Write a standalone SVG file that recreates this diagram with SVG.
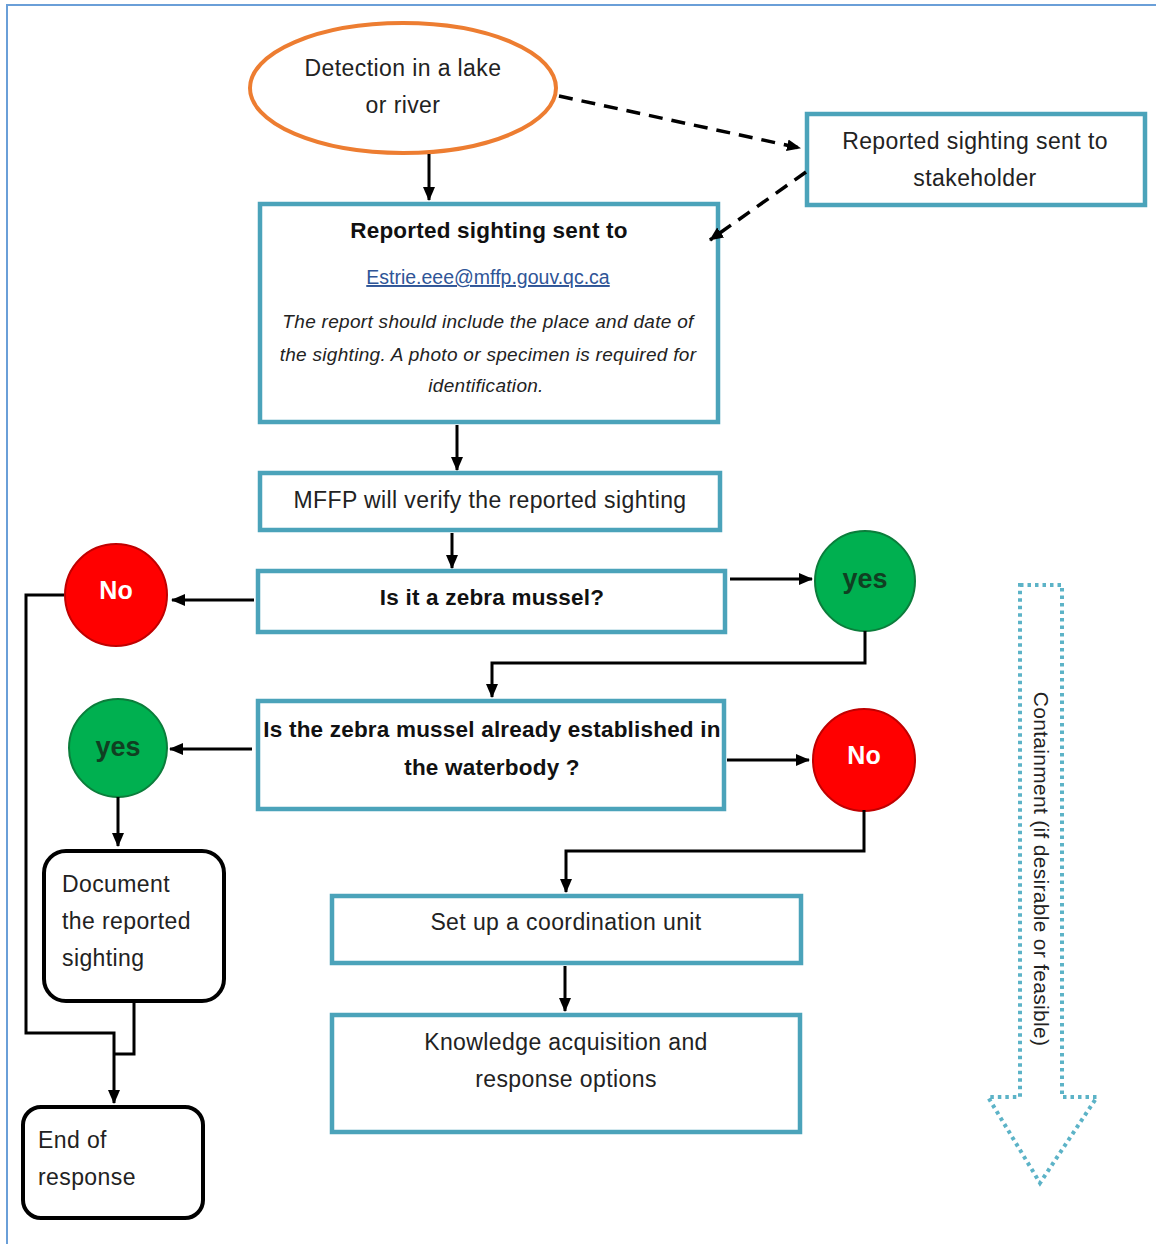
<svg xmlns="http://www.w3.org/2000/svg" width="1156" height="1244" viewBox="0 0 1156 1244">
<defs>
<marker id="ah" markerUnits="userSpaceOnUse" markerWidth="14" markerHeight="14" viewBox="0 0 14 14" refX="13" refY="7" orient="auto">
<path d="M0,1 L14,7 L0,13 Z" fill="#000"/>
</marker>
<style>
.box{fill:#fff;stroke:#4ba3ba;stroke-width:4.5}
.rbox{fill:#fff;stroke:#000;stroke-width:4}
.t{font-family:"Liberation Sans",Arial,sans-serif;font-size:23px;letter-spacing:0.4px;fill:#222}
.b{font-family:"Liberation Sans",Arial,sans-serif;font-size:22.5px;font-weight:bold;fill:#111;letter-spacing:0.2px}
.it{font-family:"Liberation Sans",Arial,sans-serif;font-size:19px;font-style:italic;fill:#222;letter-spacing:0.3px}
.c{text-anchor:middle}
.con{fill:none;stroke:#000;stroke-width:3}
.dash{fill:none;stroke:#000;stroke-width:3.5;stroke-dasharray:14 9}
.red{fill:#ff0000;stroke:#c00000;stroke-width:2}
.grn{fill:#00b050;stroke:#0b7d3b;stroke-width:2}
.no{font-family:"Liberation Sans",Arial,sans-serif;font-size:25px;font-weight:bold;fill:#fff;text-anchor:middle}
.yes{font-family:"Liberation Sans",Arial,sans-serif;font-size:27px;font-weight:bold;fill:#103f22;text-anchor:middle}
</style>
</defs>
<rect x="7" y="5" width="1170" height="1260" fill="#fff" stroke="#6a9fd8" stroke-width="2"/>

<g id="detection">
<ellipse cx="403" cy="88" rx="153" ry="65" fill="#fff" stroke="#ed7d31" stroke-width="4"/>
<text class="t c" x="403" y="76">Detection in a lake</text>
<text class="t c" x="403" y="113">or river</text>
</g>

<g id="stakeholder">
<rect class="box" x="807" y="114" width="338" height="91"/>
<text class="t c" x="975" y="149">Reported sighting sent to</text>
<text class="t c" x="975" y="186">stakeholder</text>
</g>

<g id="report">
<rect class="box" x="260" y="204" width="458" height="218"/>
<text class="b c" x="489" y="238">Reported sighting sent to</text>
<text class="c" x="488" y="284" font-family="Liberation Sans, Arial, sans-serif" font-size="19.5" fill="#2f5597" text-decoration="underline">Estrie.eee@mffp.gouv.qc.ca</text>
<text class="it c" x="488" y="328">The report should include the place and date of</text>
<text class="it c" x="488" y="361">the sighting. A photo or specimen is required for</text>
<text class="it c" x="486" y="392">identification.</text>
</g>

<g id="mffp">
<rect class="box" x="260" y="473" width="460" height="57"/>
<text class="t c" x="490" y="508">MFFP will verify the reported sighting</text>
</g>

<g id="zebra-q">
<rect class="box" x="258" y="571" width="467" height="61"/>
<text class="b c" x="492" y="605">Is it a zebra mussel?</text>
</g>

<g id="no1">
<circle class="red" cx="116" cy="595" r="51"/>
<text class="no" x="116" y="599">No</text>
</g>

<g id="yes1">
<circle class="grn" cx="865" cy="581" r="50"/>
<text class="yes" x="865" y="588">yes</text>
</g>

<g id="established-q">
<rect class="box" x="258" y="701" width="466" height="108"/>
<text class="b c" x="492" y="737">Is the zebra mussel already established in</text>
<text class="b c" x="492" y="775">the waterbody ?</text>
</g>

<g id="yes2">
<circle class="grn" cx="118" cy="748" r="49"/>
<text class="yes" x="118" y="756">yes</text>
</g>

<g id="no2">
<circle class="red" cx="864" cy="760" r="51"/>
<text class="no" x="864" y="764">No</text>
</g>

<g id="document">
<rect class="rbox" x="44" y="851" width="180" height="150" rx="22"/>
<text class="t" x="62" y="892">Document</text>
<text class="t" x="62" y="929">the reported</text>
<text class="t" x="62" y="966">sighting</text>
</g>

<g id="end">
<rect class="rbox" x="23" y="1107" width="180" height="111" rx="18"/>
<text class="t" x="38" y="1148">End of</text>
<text class="t" x="38" y="1185">response</text>
</g>

<g id="coordination">
<rect class="box" x="332" y="896" width="469" height="67"/>
<text class="t c" x="566" y="930">Set up a coordination unit</text>
</g>

<g id="knowledge">
<rect class="box" x="332" y="1015" width="468" height="117"/>
<text class="t c" x="566" y="1050">Knowledge acquisition and</text>
<text class="t c" x="566" y="1087">response options</text>
</g>

<g id="containment">
<path d="M1020,585 L1062,585 L1062,1097 L1097,1097 L1040,1183 L988,1097 L1020,1097 Z" fill="none" stroke="#5cb3c7" stroke-width="4" stroke-dasharray="3.5 4"/>
<text transform="translate(1034,869) rotate(90)" text-anchor="middle" font-family="Liberation Sans, Arial, sans-serif" font-size="21" letter-spacing="0.3" fill="#222">Containment (if desirable or feasible)</text>
</g>

<g id="connectors">
<line class="con" x1="429" y1="154" x2="429" y2="200" marker-end="url(#ah)"/>
<path class="dash" d="M559,96 L800,148" marker-end="url(#ah)"/>
<path class="dash" d="M806,172 L710,240" marker-end="url(#ah)"/>
<line class="con" x1="457" y1="425" x2="457" y2="470" marker-end="url(#ah)"/>
<line class="con" x1="452" y1="533" x2="452" y2="568" marker-end="url(#ah)"/>
<line class="con" x1="254" y1="600" x2="172" y2="600" marker-end="url(#ah)"/>
<line class="con" x1="730" y1="579" x2="812" y2="579" marker-end="url(#ah)"/>
<path class="con" d="M865,631 L865,663 L492,663 L492,697" marker-end="url(#ah)"/>
<line class="con" x1="252" y1="749" x2="170" y2="749" marker-end="url(#ah)"/>
<line class="con" x1="727" y1="760" x2="809" y2="760" marker-end="url(#ah)"/>
<path class="con" d="M864,810 L864,851 L566,851 L566,892" marker-end="url(#ah)"/>
<line class="con" x1="565" y1="966" x2="565" y2="1011" marker-end="url(#ah)"/>
<line class="con" x1="118" y1="797" x2="118" y2="846" marker-end="url(#ah)"/>
<path class="con" d="M64,595 L26,595 L26,1033 L114,1033 L114,1103" marker-end="url(#ah)"/>
<path class="con" d="M134,1003 L134,1054 L114,1054"/>
</g>
</svg>
